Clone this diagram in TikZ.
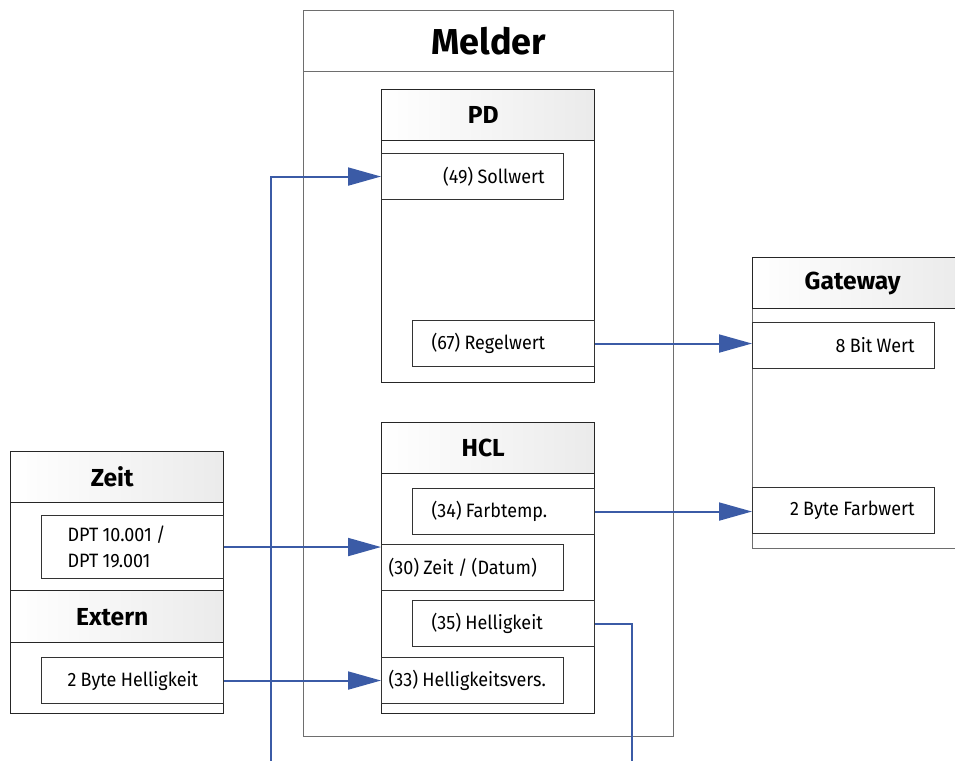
\documentclass[tikz,border=0pt]{standalone}
\usepackage{fontspec}
\setmainfont{Fira Sans}
\newfontfamily\itemfont{Fira Sans}[FakeStretch=0.93, WordSpace=0.9]
\hyphenpenalty=10000
\usetikzlibrary{arrows.meta, positioning}
\definecolor{linkblue}{RGB}{59, 91, 166}
\definecolor{frame}{RGB}{110, 110, 110}

\begin{document}
\begin{tikzpicture}[
    block/.style={rectangle, draw=frame, line width=0.8pt, anchor=north west,
                  inner sep=0pt, minimum width=4.26cm},
    head/.style={block, draw=black!85, left color=white, right color=black!8,
                 minimum height=1.02cm, font=\fontsize{14}{16}\selectfont\bfseries,
                 execute at end node={\hspace*{0.2cm}}},
    item/.style={rectangle, draw=black!80, line width=0.6pt, fill=white, anchor=north west,
                 minimum height=0.92cm, inner sep=0pt, text width=3.64cm,
                 font=\itemfont\fontsize{11}{14.5}\selectfont},
    padL/.style={item, align=flush left, execute at begin node={\leftskip=#1}},
    padR/.style={item, align=flush right, execute at begin node={\rightskip=#1}},
    link/.style={draw=linkblue, line width=1.1pt},
    arr/.style={link, -{Triangle[length=0.66cm, width=0.36cm]}}]

    \clip (0,0) rectangle (19.1,-15.2);

    % Melder
    \node[block, minimum width=7.40cm, minimum height=14.52cm] (melder) at (6.06,-0.20) {};
    \node[block, minimum width=7.40cm, minimum height=1.22cm,
          font=\fontsize{20.5}{24}\selectfont\bfseries] (melderhead) at (6.06,-0.20) {Melder};

    % PD
    \node[block, draw=black!85, minimum height=5.86cm] (pd) at (7.62,-1.78) {};
    \node[head] (pdhead) at (7.62,-1.78) {PD};
    \node[padR=0.38cm] (sollwert) at (7.62,-3.06) {(49) Sollwert};
    \node[padL=0.38cm] (regelwert) at (8.24,-6.40) {(67) Regelwert};

    % HCL
    \node[block, draw=black!85, minimum height=5.82cm] (hcl) at (7.62,-8.44) {};
    \node[head] (hclhead) at (7.62,-8.44) {HCL};
    \node[padL=0.38cm] (farbtemp) at (8.24,-9.76) {(34) Farbtemp.};
    \node[padL=0.14cm] (zeitdatum) at (7.62,-10.88) {(30) Zeit / (Datum)};
    \node[padL=0.38cm] (helligkeit) at (8.24,-12.00) {(35) Helligkeit};
    \node[padL=0.14cm] (hellvers) at (7.62,-13.14) {(33) Helligkeitsvers.};

    % Gateway
    \node[block, minimum width=4.20cm, minimum height=5.82cm] (gateway) at (15.04,-5.14) {};
    \node[head, minimum width=4.20cm] (gatewayhead) at (15.04,-5.14) {Gateway};
    \node[padR=0.40cm] (achtbit) at (15.04,-6.44) {8 Bit Wert};
    \node[padR=0.40cm] (farbwert) at (15.04,-9.74) {2 Byte Farbwert};

    % Zeit and Extern
    \node[block, draw=black!85, minimum height=2.78cm] (zeit) at (0.20,-9.02) {};
    \node[head] (zeithead) at (0.20,-9.02) {Zeit};
    \node[padL=0.52cm, minimum height=1.26cm] (dpt) at (0.82,-10.30) {DPT 10.001 /\\DPT 19.001};
    \node[block, draw=black!85, minimum height=2.46cm] (extern) at (0.20,-11.80) {};
    \node[head, minimum height=1.04cm] (externhead) at (0.20,-11.80) {Extern};
    \node[padL=0.52cm] (helligkeitin) at (0.82,-13.14) {2 Byte Helligkeit};

    % Connections
    \coordinate (solldown) at (5.42,-15.4);
    \coordinate (helldown) at (12.64,-15.4);
    \draw[arr] (solldown) |- (sollwert.west);
    \draw[arr] (regelwert.east) -- (regelwert.east -| achtbit.west);
    \draw[arr] (farbtemp.east) -- (farbtemp.east -| farbwert.west);
    \draw[arr] (dpt.east) -- (dpt.east -| zeitdatum.west);
    \draw[arr] (helligkeitin.east) -- (hellvers.west);
    \draw[link] (helligkeit.east) -| (helldown);
\end{tikzpicture}
\end{document}
